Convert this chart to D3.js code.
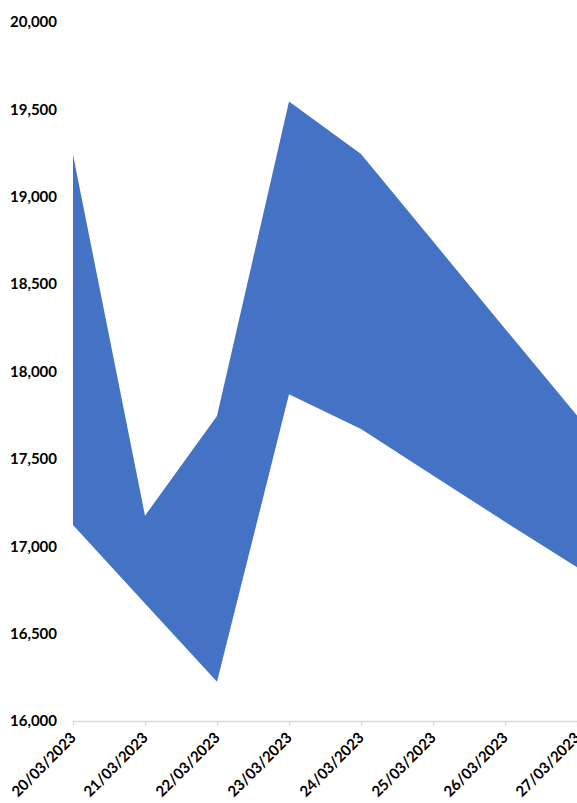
<!DOCTYPE html>
<html><head><meta charset="utf-8">
<script src="https://cdn.jsdelivr.net/npm/d3@7"></script>
<style>body{margin:0;background:#fff}svg{display:block}</style>
</head><body>
<svg id="c" width="577" height="803"></svg>
<script>
const dates = ["20/03/2023","21/03/2023","22/03/2023","23/03/2023","24/03/2023","25/03/2023","26/03/2023","27/03/2023"];
const lowValues  = [17122, 16673, 16225, 17870, 17671, 17405, 17140, 16880];
const highValues = [19240, 17175, 17745, 19545, 19245, 18745, 18245, 17748];
const yTicks = [16000,16500,17000,17500,18000,18500,19000,19500,20000];

const svg = d3.select("#c");
const x = d3.scalePoint().domain(dates).range([73, 577]);
const y = d3.scaleLinear().domain([16000, 20000]).range([721, 22]);

const data = dates.map((d,i)=>({d, lo: lowValues[i], hi: highValues[i]}));
svg.append("path").datum(data)
  .attr("fill", "#4472C4")
  .attr("d", d3.area().x(p=>x(p.d)).y0(p=>y(p.lo)).y1(p=>y(p.hi)));

const font = "Lato, 'Open Sans', sans-serif";
// y axis labels
svg.append("g").selectAll("text").data(yTicks).join("text")
  .attr("x", 57).attr("y", v=>y(v)).attr("dy", "0.35em")
  .attr("text-anchor", "end")
  .style("font-family", font).style("font-weight", "bold").style("font-size", "15px")
  .attr("fill", "#000")
  .text(v=>d3.format(",")(v));

// x axis
const xa = svg.append("g").attr("transform", "translate(0,721)")
  .call(d3.axisBottom(x).tickSize(5).tickSizeOuter(0));
xa.select(".domain").attr("stroke", "#d9d9d9").attr("stroke-width", 1.3);
xa.selectAll(".tick line").attr("stroke", "#d9d9d9").attr("stroke-width", 1.3);
xa.selectAll(".tick text")
  .style("font-family", font).style("font-weight", "bold").style("font-size", "15px")
  .attr("fill", "#000")
  .attr("text-anchor", "end")
  .attr("dx", 0).attr("dy", 0).attr("x", -10).attr("y", 15)
  .attr("transform", "rotate(-45)");
</script>
</body></html>
